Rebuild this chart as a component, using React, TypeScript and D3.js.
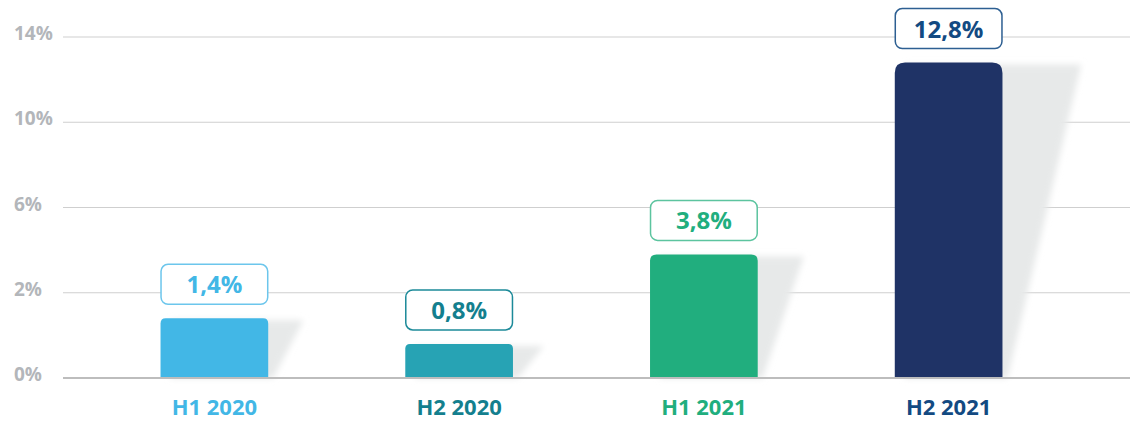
import { useRef, useEffect } from 'react';
import * as d3 from 'd3';

// Half-year growth, the way the picture shows it
const periods = ['H1 2020', 'H2 2020', 'H1 2021', 'H2 2021'];
const values = [1.4, 0.8, 3.8, 12.8];
const valueLabels = ['1,4%', '0,8%', '3,8%', '12,8%'];
const yTicks = [0, 2, 6, 10, 14];
const yTickLabels = ['0%', '2%', '6%', '10%', '14%'];

const barColors = ['#42b7e6', '#27a3b4', '#21ae7e', '#1f3366'];
const textColors = ['#42b7e6', '#147f8e', '#21ae7e', '#134a82'];
const boxStroke = ['#6cc6ec', '#1c8a99', '#5cc49f', '#2d5f92'];

const W = 1137;
const H = 421;
const BASE_Y = 378;
const TOP_Y = 37;
const FONT = '"Open Sans", "Noto Sans", sans-serif';

export default function App() {
  const svgRef = useRef<SVGSVGElement | null>(null);

  useEffect(() => {
    if (!svgRef.current) return;
    const svg = d3.select(svgRef.current);
    svg.selectAll('*').remove();

    // axis ticks are evenly spaced even though the values are not
    const tickPos = yTicks.map((_, i) => BASE_Y - (i * (BASE_Y - TOP_Y)) / (yTicks.length - 1));
    const y = d3.scaleLinear().domain(yTicks).range(tickPos);

    const x = d3.scaleBand<string>()
      .domain(periods)
      .range([92, 1071])
      .paddingInner(0.56)
      .paddingOuter(0.28);

    const defs = svg.append('defs');
    defs.append('filter')
      .attr('id', 'shadowBlur')
      .attr('x', '-20%').attr('y', '-20%')
      .attr('width', '140%').attr('height', '140%')
      .append('feGaussianBlur')
      .attr('stdDeviation', 3);

    // gridlines + labels
    const grid = svg.append('g');
    yTicks.forEach((t, i) => {
      grid.append('line')
        .attr('x1', 63).attr('x2', 1130)
        .attr('y1', y(t)).attr('y2', y(t))
        .attr('stroke', t === 0 ? '#bdbdbd' : '#cfcfcf')
        .attr('stroke-width', t === 0 ? 2 : 1);
      grid.append('text')
        .attr('x', 14).attr('y', y(t) + 3)
        .attr('font-family', FONT).attr('font-weight', 700).attr('font-size', 19)
        .attr('fill', '#b3b6ba')
        .text(yTickLabels[i]);
    });

    const bw = x.bandwidth();
    const g = svg.append('g');

    periods.forEach((p, i) => {
      const x0 = x(p)!;
      const x1 = x0 + bw;
      const top = y(values[i]);
      const h = BASE_Y - top;
      const off = 25 + h * 0.17;
      const r = 4 + h * 0.02;

      // slanted shadow behind the bar
      g.append('path')
        .attr('d', `M${x0 + 10},${top + 2} L${x1 + off},${top + 2} L${x1 + 5},${BASE_Y} L${x0 + 10},${BASE_Y} Z`)
        .attr('fill', '#e7e9e9')
        .attr('filter', 'url(#shadowBlur)');

      // bar with rounded top
      g.append('path')
        .attr('d', `M${x0},${BASE_Y} L${x0},${top + r} Q${x0},${top} ${x0 + r},${top} L${x1 - r},${top} Q${x1},${top} ${x1},${top + r} L${x1},${BASE_Y} Z`)
        .attr('fill', barColors[i]);

      // value box
      const boxH = 40;
      const boxY = top - 14 - boxH;
      g.append('rect')
        .attr('x', x0 + 0.5).attr('y', boxY)
        .attr('width', bw - 1).attr('height', boxH)
        .attr('rx', 7)
        .attr('fill', '#fff')
        .attr('stroke', boxStroke[i])
        .attr('stroke-width', 1.5);
      g.append('text')
        .attr('x', x0 + bw / 2).attr('y', boxY + boxH / 2 + 9)
        .attr('text-anchor', 'middle')
        .attr('font-family', FONT).attr('font-weight', 700).attr('font-size', 24)
        .attr('fill', textColors[i])
        .text(valueLabels[i]);

      // category label
      g.append('text')
        .attr('x', x0 + bw / 2).attr('y', 415)
        .attr('text-anchor', 'middle')
        .attr('font-family', FONT).attr('font-weight', 700).attr('font-size', 22)
        .attr('fill', textColors[i])
        .text(p);
    });

    // baseline again on top of shadows
    svg.append('line')
      .attr('x1', 63).attr('x2', 1130)
      .attr('y1', BASE_Y).attr('y2', BASE_Y)
      .attr('stroke', '#bdbdbd').attr('stroke-width', 2);
  }, []);

  return (
    <svg
      ref={svgRef}
      width={W}
      height={H}
      style={{ position: 'absolute', left: 0, top: 0, background: '#fff' }}
    />
  );
}
